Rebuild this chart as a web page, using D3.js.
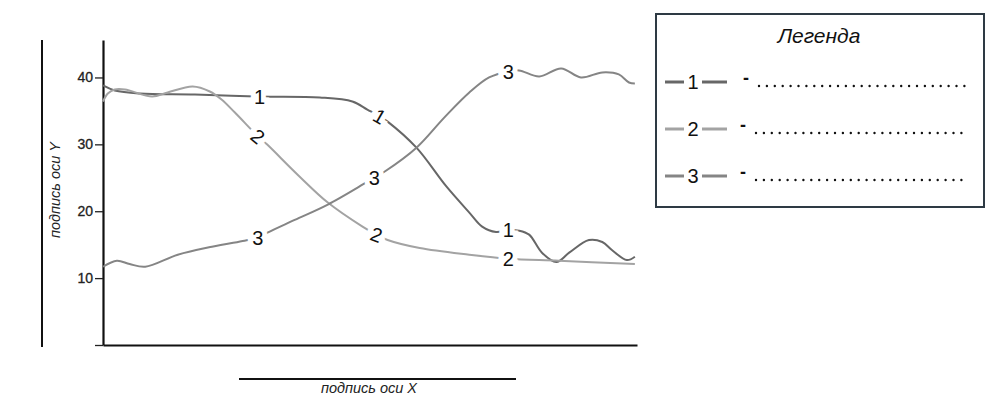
<!DOCTYPE html>
<html>
<head>
<meta charset="utf-8">
<script src="https://cdn.jsdelivr.net/npm/d3@7"></script>
<style>
  body { margin: 0; background: #fff; }
  text { font-family: "Liberation Sans", Arial, sans-serif; }
</style>
</head>
<body>
<script>
//-----------------Data----------------

const xs1 = [0, 2.2, 6.9, 17.2, 29.3, 40.6, 46.7, 49.5, 51.8, 53.3, 58.7, 64.3, 68.6, 71.0, 73.6, 75.9, 77.9, 79.8, 82.2, 84.9, 87.3, 91.0, 93.5, 95.3, 98.1, 99.6];
const ys1 = [38.8, 38.05, 37.6, 37.45, 37.15, 37.0, 36.4, 35.2, 34.2, 33.4, 29.5, 23.7, 19.8, 17.7, 16.9, 17.2, 17.1, 16.5, 13.8, 12.4, 13.8, 15.7, 15.4, 14.2, 12.7, 13.2];

const xs2 = [0, 0.9, 2.2, 4.1, 9.2, 12.1, 16.8, 20.0, 22.2, 24.7, 29.0, 30.7, 36.4, 42.1, 48.6, 51.2, 53.3, 59.3, 68.6, 75.9, 85.4, 99.6];
const ys2 = [36.4, 37.6, 38.2, 38.2, 37.15, 37.75, 38.65, 37.9, 36.7, 34.75, 31.2, 30.0, 25.5, 21.3, 17.7, 16.5, 15.7, 14.5, 13.5, 12.9, 12.6, 12.1];

const xs3 = [0, 2.6, 5.0, 7.9, 14.0, 20.4, 26.5, 29.0, 30.8, 35.9, 42.1, 49.3, 50.8, 52.7, 58.7, 63.9, 68.6, 72.3, 75.9, 77.9, 81.7, 85.8, 89.5, 93.5, 96.6, 98.5, 99.6];
const ys3 = [11.7, 12.6, 12.1, 11.7, 13.5, 14.7, 15.6, 16.0, 16.8, 18.7, 21.0, 24.3, 25.0, 25.9, 29.5, 34.0, 37.75, 40.0, 40.9, 41.05, 40.15, 41.35, 40.0, 40.75, 40.45, 39.25, 39.1];

// inline number labels sitting on each curve: [x, y, rotation]
const marks1 = [[29.3, 37.15, 0], [51.8, 34.2, 30], [75.9, 17.2, 0]];
const marks2 = [[29.0, 31.2, 40], [51.2, 16.5, 20], [75.9, 12.9, 0]];
const marks3 = [[29.0, 16.0, 0], [50.8, 25.0, 0], [75.9, 40.9, 0]];

const yTicks = [0, 10, 20, 30, 40];
const seriesNames = ["1", "2", "3"];
const seriesColors = ["#676767", "#a3a3a3", "#858585"];

//-----------------Svg----------------

const width = 992;
const height = 397;

const svg = d3.select("body").append("svg").attr("width", width).attr("height", height);

const xScale = d3.scaleLinear().domain([0, 100]).range([103, 637]);
const yScale = d3.scaleLinear().domain([0, 45.6]).range([345, 40]);

//-----------------Axes----------------

const yAxis = d3
  .axisLeft(yScale)
  .tickValues(yTicks)
  .tickFormat((d) => (d === 0 ? "" : d))
  .tickSize(8)
  .tickSizeOuter(0);

const gy = svg
  .append("g")
  .attr("transform", "translate(103,0)")
  .call(yAxis)
  .attr("font-size", 14)
  .attr("font-family", "Liberation Sans, Arial, sans-serif");
gy.select(".domain").attr("stroke", "#111").attr("stroke-width", 2.2);
gy.selectAll(".tick line").attr("stroke", "#222").attr("stroke-width", 1.3);
gy.selectAll(".tick text").attr("x", -10).attr("fill", "#222").attr("stroke", "#222").attr("stroke-width", 0.3);

const xAxis = d3.axisBottom(xScale).tickValues([]).tickSizeOuter(0);
const gx = svg.append("g").attr("transform", "translate(0,345)").call(xAxis);
gx.select(".domain").attr("stroke", "#111").attr("stroke-width", 2.2);

// axis captions with their rules
svg.append("line").attr("x1", 42).attr("x2", 42).attr("y1", 40).attr("y2", 347).attr("stroke", "#111").attr("stroke-width", 2);
svg
  .append("text")
  .text("подпись оси Y")
  .attr("transform", "translate(60,190) rotate(-90)")
  .style("text-anchor", "middle")
  .style("font-style", "italic")
  .style("font-size", "14.5px")
  .attr("fill", "#222");

svg.append("line").attr("x1", 239).attr("x2", 516).attr("y1", 379).attr("y2", 379).attr("stroke", "#111").attr("stroke-width", 2);
svg
  .append("text")
  .text("подпись оси X")
  .attr("x", 369)
  .attr("y", 393)
  .style("text-anchor", "middle")
  .style("font-style", "italic")
  .style("font-size", "14.5px")
  .attr("fill", "#222");

//-----------------Lines----------------

const line = d3
  .line()
  .x((d) => xScale(d[0]))
  .y((d) => yScale(d[1]))
  .curve(d3.curveCatmullRom.alpha(0.5));

const series = [
  { pts: d3.zip(xs1, ys1), marks: marks1 },
  { pts: d3.zip(xs2, ys2), marks: marks2 },
  { pts: d3.zip(xs3, ys3), marks: marks3 },
];

series.forEach((s, i) => {
  svg
    .append("path")
    .datum(s.pts)
    .attr("d", line)
    .attr("fill", "none")
    .attr("stroke", seriesColors[i])
    .attr("stroke-width", 2);
});

series.forEach((s, i) => {
  svg
    .selectAll(".lbl" + i)
    .data(s.marks)
    .enter()
    .append("text")
    .attr("class", "lbl" + i)
    .text(seriesNames[i])
    .attr("transform", (d) => "translate(" + xScale(d[0]) + "," + yScale(d[1]) + ") rotate(" + d[2] + ")")
    .attr("dy", "0.36em")
    .style("text-anchor", "middle")
    .style("font-size", "20px")
    .style("paint-order", "stroke")
    .attr("stroke", "#fff")
    .attr("stroke-width", 10)
    .attr("fill", "#111");
});

//-----------------Legend----------------

const legend = svg.append("g").attr("id", "legend");

legend
  .append("rect")
  .attr("x", 656)
  .attr("y", 14)
  .attr("width", 328)
  .attr("height", 193)
  .attr("fill", "#fff")
  .attr("stroke", "#2e3a44")
  .attr("stroke-width", 2);

legend
  .append("text")
  .text("Легенда")
  .attr("x", 819)
  .attr("y", 43)
  .style("text-anchor", "middle")
  .style("font-style", "italic")
  .style("font-size", "21px")
  .attr("fill", "#111");

const rowY = d3.scalePoint().domain(seriesNames).range([82, 176]);
const dotEnds = [972, 967, 967];

seriesNames.forEach((name, i) => {
  const y = rowY(name);
  legend.append("line").attr("x1", 665).attr("x2", 684).attr("y1", y).attr("y2", y).attr("stroke", seriesColors[i]).attr("stroke-width", 3);
  legend.append("line").attr("x1", 702).attr("x2", 727).attr("y1", y).attr("y2", y).attr("stroke", seriesColors[i]).attr("stroke-width", 3);
  legend
    .append("text")
    .text(name)
    .attr("x", 693)
    .attr("y", y + 7)
    .style("text-anchor", "middle")
    .style("font-size", "20px")
    .attr("fill", "#111");
  legend
    .append("text")
    .text("-")
    .attr("x", i === 0 ? 746 : 743)
    .attr("y", y + 2)
    .style("text-anchor", "middle")
    .style("font-size", "18px")
    .style("font-weight", "bold")
    .attr("fill", "#111");
  legend
    .append("line")
    .attr("x1", i === 0 ? 759 : 756)
    .attr("x2", dotEnds[i])
    .attr("y1", y + 4)
    .attr("y2", y + 4)
    .attr("stroke", "#111")
    .attr("stroke-width", 2.4)
    .attr("stroke-linecap", "round")
    .attr("stroke-dasharray", "0,7.9");
});
</script>
</body>
</html>
